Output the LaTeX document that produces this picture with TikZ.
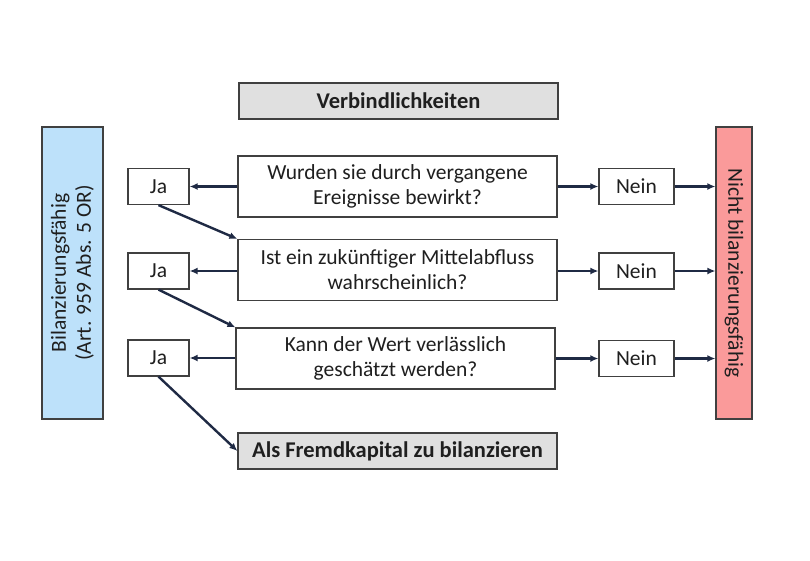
\documentclass[tikz,border=0pt]{standalone}
\usepackage{fontspec}
\setmainfont{Carlito}
\usetikzlibrary{arrows.meta}
\definecolor{boxline}{HTML}{404040}
\definecolor{arr}{HTML}{1F2A44}
\definecolor{graybox}{HTML}{E0E0E0}
\definecolor{bluebox}{HTML}{BDE1FA}
\definecolor{redbox}{HTML}{FA9A9A}
\begin{document}
\begin{tikzpicture}[x=1pt,y=-1pt,
  bx/.style={draw=boxline,line width=1.2pt,inner sep=0pt,align=center,font=\fontsize{21.5}{25}\selectfont,text=black!88},
  qbox/.style={bx,fill=white,minimum width=319pt,minimum height=61pt},
  hbox/.style={bx,fill=graybox,minimum width=319pt,minimum height=36pt,font=\fontsize{22.5}{26}\selectfont\bfseries},
  jabox/.style={bx,fill=white,minimum width=61pt,minimum height=36pt},
  neinbox/.style={bx,fill=white,minimum width=75pt,minimum height=36pt},
  arw/.style={draw=arr,line width=2.4pt,-{Latex[length=8pt,width=7pt]}}
]
\useasboundingbox (0,0) rectangle (810,560);
\node[hbox] (verb) at (398.5,101) {Verbindlichkeiten};
\node[bx,fill=bluebox,minimum width=61pt,minimum height=292pt] (bil) at (72.5,273) {};
\node[rotate=90,align=center,font=\fontsize{21.5}{25}\selectfont,text=black!88] (biltext) at (bil.center) {Bilanzierungsfähig\\(Art. 959 Abs. 5 OR)};
\node[bx,fill=redbox,minimum width=36pt,minimum height=292pt] (nicht) at (734,273) {};
\node[rotate=-90,font=\fontsize{21.5}{25}\selectfont,text=black!88] (nichttext) at (nicht.center) {Nicht bilanzierungsfähig};
\node[qbox] (q1) at (397.5,186.5) {Wurden sie durch vergangene\\Ereignisse bewirkt?};
\node[qbox] (q2) at (397.5,270) {Ist ein zukünftiger Mittelabfluss\\wahrscheinlich?};
\node[qbox] (q3) at (395.5,358.5) {Kann der Wert verlässlich\\geschätzt werden?};
\node[hbox] (fk) at (397.5,451) {Als Fremdkapital zu bilanzieren};
\node[jabox] (ja1) at (158.5,186.5) {Ja};
\node[jabox] (ja2) at (158.5,271) {Ja};
\node[jabox] (ja3) at (158.5,358) {Ja};
\node[neinbox] (n1) at (636.5,186.5) {Nein};
\node[neinbox] (n2) at (636.5,271) {Nein};
\node[neinbox] (n3) at (636.5,358.5) {Nein};
\foreach \i in {1,2,3}{
  \draw[arw] (q\i.west |- ja\i.east) -- (ja\i.east);
  \draw[arw] (q\i.east |- n\i.west) -- (n\i.west);
  \draw[arw] (n\i.east) -- (n\i.east -| nicht.west);
}
\draw[arw] (ja1.south) -- (q2.north west);
\draw[arw] (ja2.south) -- (q3.north west);
\draw[arw] (ja3.south) -- (fk.west);
\end{tikzpicture}
\end{document}
